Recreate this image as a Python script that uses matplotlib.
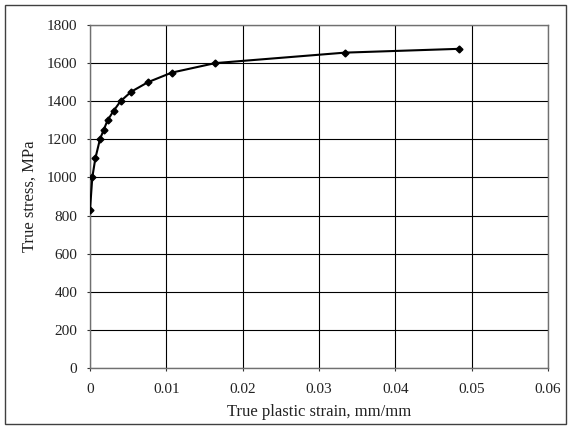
import matplotlib
matplotlib.use('Agg')
import matplotlib.pyplot as plt
from matplotlib.patches import Rectangle

# ── Data ────────────────────────────────────────
strain = [0.0, 0.0003, 0.0007, 0.0013, 0.0018, 0.0023, 0.0031, 0.0040,
          0.0054, 0.0076, 0.0107, 0.0164, 0.0334, 0.0484]
stress = [830, 1000, 1100, 1200, 1250, 1300, 1350, 1400,
          1450, 1500, 1550, 1600, 1655, 1675]

x_ticks = [0, 0.01, 0.02, 0.03, 0.04, 0.05, 0.06]
x_tick_labels = ['0', '0.01', '0.02', '0.03', '0.04', '0.05', '0.06']
y_ticks = [0, 200, 400, 600, 800, 1000, 1200, 1400, 1600, 1800]

plt.rcParams['font.family'] = ['Liberation Serif', 'DejaVu Serif']
plt.rcParams['font.size'] = 11

fig = plt.figure(figsize=(5.7, 4.3), dpi=100)
ax = fig.add_axes([90/570, 1-368/430, 458/570, 343/430])

# outer chart border
fig.patches.append(Rectangle((5/570, 6/430), 561/570, 419/430, transform=fig.transFigure,
                             fill=False, edgecolor='#404040', linewidth=1.0))

ax.plot(strain, stress, color='black', linewidth=1.5, marker='D', markersize=3.5,
        markerfacecolor='black', markeredgecolor='black', zorder=3)

ax.set_xlim(0, 0.06)
ax.set_ylim(0, 1800)
ax.set_xticks(x_ticks)
ax.set_xticklabels(x_tick_labels)
ax.set_yticks(y_ticks)

ax.grid(True, color='black', linewidth=0.8)
ax.set_axisbelow(True)
for s in ax.spines.values():
    s.set_color('#707070')
    s.set_linewidth(1.0)

ax.tick_params(axis='x', direction='out', length=2.5, pad=8, colors='#333333', labelcolor='#222222')
ax.tick_params(axis='y', direction='out', length=2.5, pad=6.5, colors='#333333', labelcolor='#222222')

ax.set_xlabel('True plastic strain, mm/mm', labelpad=6, color='#222222', fontsize=12)
ax.set_ylabel('True stress, MPa', labelpad=7, color='#222222', fontsize=12)

fig.savefig('out.png', dpi=100)
